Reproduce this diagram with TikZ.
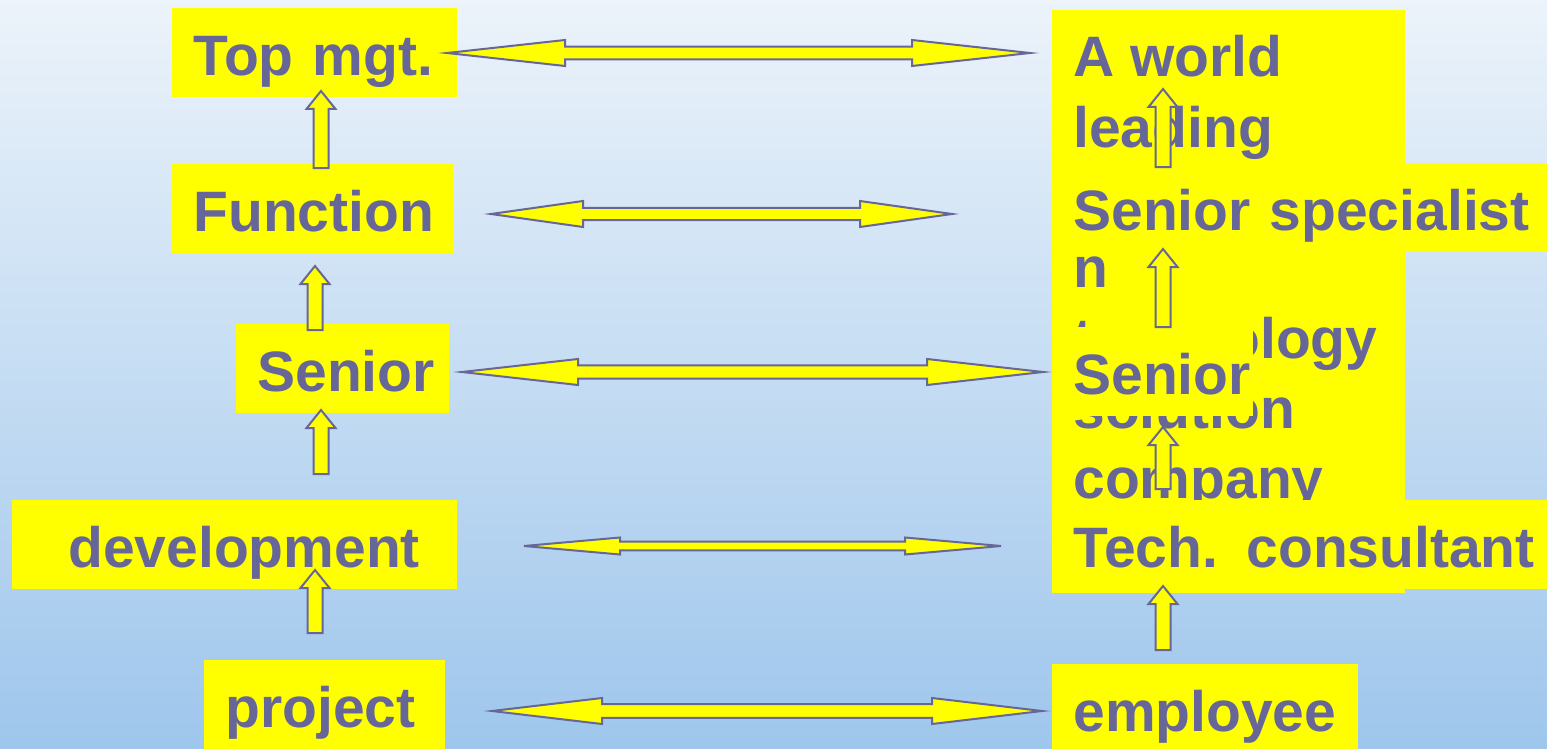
\documentclass[tikz,border=0pt]{standalone}
\usepackage{fontspec}
\setmainfont{Liberation Sans}
\usetikzlibrary{calc}
\definecolor{ink}{RGB}{102,102,153}
\definecolor{hilite}{RGB}{255,255,0}
\definecolor{bgtop}{RGB}{236,243,250}
\definecolor{bgbot}{RGB}{158,198,236}
\newcommand{\bigfont}{\fontsize{28.5pt}{35pt}\selectfont\bfseries\hyphenpenalty=10000}
\tikzset{
  tbox/.style={fill=hilite, anchor=north west, inner xsep=10.5pt, inner ysep=0pt,
    text height=33.5pt, text depth=11pt, align=left, text=ink, font=\bigfont},
  tline/.style={anchor=base west, inner sep=0pt, text=ink, font=\bigfont},
  blockarr/.style={fill=hilite, draw=ink, line width=1pt, line join=miter},
}
% double block arrow: left tip, right tip, head length, head half, shaft half
\newcommand{\dblarr}[5]{%
  \draw[blockarr] let \p1=(#1), \p2=(#2) in
    (\x1,\y1) -- (\x1+#3,\y1+#4) -- (\x1+#3,\y1+#5) -- (\x2-#3,\y2+#5)
    -- (\x2-#3,\y2+#4) -- (\x2,\y2) -- (\x2-#3,\y2-#4) -- (\x2-#3,\y2-#5)
    -- (\x1+#3,\y1-#5) -- (\x1+#3,\y1-#4) -- cycle;}
% up block arrow: bottom, tip
\newcommand{\uparr}[2]{%
  \draw[blockarr] let \p1=(#1), \p2=(#2) in
    (\x1-3.75pt,\y1) -- (\x1-3.75pt,\y2-9pt) -- (\x1-7.25pt,\y2-9pt) -- (\x2,\y2)
    -- (\x1+7.25pt,\y2-9pt) -- (\x1+3.75pt,\y2-9pt) -- (\x1+3.75pt,\y1) -- cycle;}

\begin{document}
\begin{tikzpicture}[x=0.5pt,y=-0.5pt]
\useasboundingbox (0,0) rectangle (1547,749);
\shade[top color=bgtop, bottom color=bgbot] (0,0) rectangle (1547,749);

% left column
\node[tbox, text width=121.5pt] (topmgt) at (172,8) {\mbox{Top mgt.}};
\node[tbox, text width=119.5pt] (func) at (172,164) {\mbox{Function}};
\node[tbox, text width=85.5pt] (seniorl) at (236,324) {\mbox{Senior}};
\node[tbox, text width=201.5pt] (devel) at (12,500) {\hspace*{17.5pt}\mbox{development}};
\node[tbox, text width=99.5pt] (proj) at (204,660) {\mbox{project}};

% right column
\node[fill=hilite, anchor=north west, inner sep=0pt, minimum width=176.5pt,
  minimum height=291.5pt] (world) at (1052,10) {};
\foreach \t [count=\i] in {A world, leading, {}, n, technology, solution, company}
  \node[tline] (world\i) at (1073,{77+70.3*(\i-1)}) {\t};
\node[tbox, text width=226.5pt] (spec) at (1052,163) {\mbox{Senior specialist}};
\node[tbox, text width=79.5pt] (seniorr) at (1052,327) {\mbox{Senior}};
\node[tbox, text width=226.5pt] (tech) at (1052,500) {\mbox{Tech. consultant}};
\node[tbox, text width=132pt] (empl) at (1052,664) {\mbox{employee}};

% horizontal arrows
\coordinate (h1l) at (447,53);    \coordinate (h1r) at (1030,53);
\coordinate (h2l) at (491,214);   \coordinate (h2r) at (952,214);
\coordinate (h3l) at (462,372);   \coordinate (h3r) at (1043,372);
\coordinate (h4l) at (524,546);   \coordinate (h4r) at (1001,546);
\coordinate (h5l) at (492,711);   \coordinate (h5r) at (1042,711);
\dblarr{h1l}{h1r}{59pt}{6.5pt}{3.15pt}
\dblarr{h2l}{h2r}{46pt}{6.5pt}{3.1pt}
\dblarr{h3l}{h3r}{58pt}{6.5pt}{3.3pt}
\dblarr{h4l}{h4r}{48pt}{4.25pt}{2.15pt}
\dblarr{h5l}{h5r}{55pt}{6.5pt}{3.4pt}

% vertical arrows
\foreach \a/\x/\yb/\yt in {l1/321/168/91, l2/315/330/266, l3/321/474/410, l4/315/633/570,
  r1/1163/167/89, r2/1163/327/249, r3/1163/489/427, r4/1163/650/586} {
  \coordinate (\a-bot) at (\x,\yb);
  \coordinate (\a-tip) at (\x,\yt);
  \uparr{\a-bot}{\a-tip}
}
\end{tikzpicture}
\end{document}
